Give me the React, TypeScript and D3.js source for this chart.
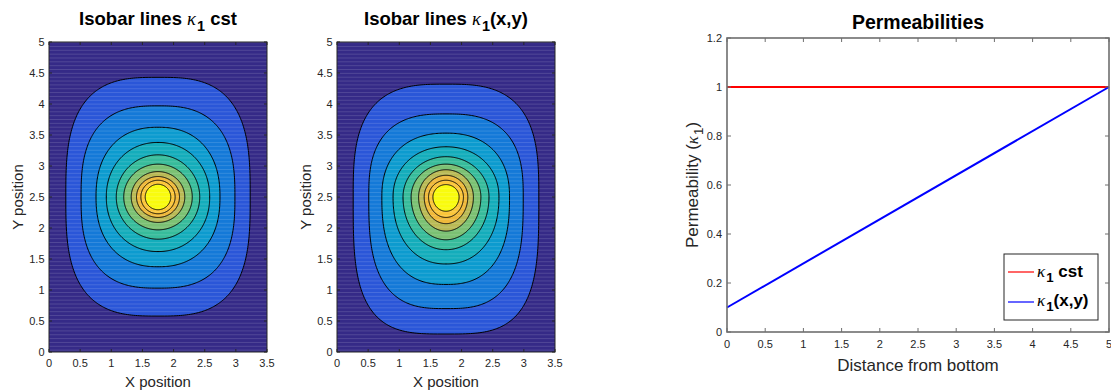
import { useMemo } from 'react';
import * as d3 from 'd3';

// Axis ticks
const CONTOUR_X_TICKS = [0, 0.5, 1, 1.5, 2, 2.5, 3, 3.5];
const CONTOUR_Y_TICKS = [0, 0.5, 1, 1.5, 2, 2.5, 3, 3.5, 4, 4.5, 5];
const PERM_X_TICKS = [0, 0.5, 1, 1.5, 2, 2.5, 3, 3.5, 4, 4.5, 5];
const PERM_Y_TICKS = [0, 0.2, 0.4, 0.6, 0.8, 1, 1.2];

// Parula-like colours for the 11 filled bands (outside -> peak)
const BAND_COLORS = [
  '#352a87', '#2a56d8', '#1479d8', '#0c9bcf', '#14adbb', '#37bc9b',
  '#7bc173', '#baba55', '#efb93b', '#fbc63a', '#f9fb0e',
];

// Isobar lines, kappa constant (outer -> inner)
const CST_LEFT = [0.27, 0.515, 0.755, 0.92, 1.08, 1.2, 1.32, 1.405, 1.475, 1.545];
const CST_RIGHT = [3.23, 2.985, 2.745, 2.58, 2.42, 2.3, 2.18, 2.095, 2.025, 1.955];
const CST_BOTTOM = [0.58, 1.03, 1.375, 1.62, 1.82, 1.97, 2.09, 2.17, 2.23, 2.295];
const CST_TOP = [4.43, 3.97, 3.625, 3.38, 3.18, 3.03, 2.91, 2.83, 2.77, 2.705];
const CST_SHAPE_TOP = [3.0, 2.7, 2.3, 2.1, 2.0, 2.0, 2.0, 2.0, 2.0, 2.0];
const CST_SHAPE_BOTTOM = [3.0, 2.7, 2.3, 2.1, 2.0, 2.0, 2.0, 2.0, 2.0, 2.0];

// Isobar lines, kappa(x,y)
const VAR_LEFT = [0.26, 0.51, 0.72, 0.9, 1.06, 1.19, 1.31, 1.4, 1.47, 1.54];
const VAR_RIGHT = [3.24, 2.99, 2.77, 2.6, 2.44, 2.31, 2.19, 2.1, 2.03, 1.96];
const VAR_BOTTOM = [0.29, 0.7, 1.09, 1.42, 1.65, 1.81, 1.95, 2.07, 2.17, 2.27];
const VAR_TOP = [4.32, 3.84, 3.53, 3.31, 3.15, 3.03, 2.94, 2.85, 2.77, 2.7];
const VAR_SHAPE_TOP = [3.0, 2.7, 2.3, 2.1, 2.0, 2.0, 2.0, 2.0, 2.0, 2.0];
const VAR_SHAPE_BOTTOM = [3.4, 2.9, 2.5, 2.2, 2.05, 2.0, 2.0, 2.0, 2.0, 2.0];

const PEAK_X = 1.75;
const PEAK_Y = 2.5;

// Permeability profiles
const DISTANCE = [0, 5];
const K_CST = [1, 1];
const K_VAR = [0.1, 1];

const FONT = '"Liberation Sans", Arial, Helvetica, sans-serif';
const GREEK = '"Liberation Serif", "DejaVu Serif", serif';
const INK = '#262626';

type Levels = {
  left: number[]; right: number[]; bottom: number[]; top: number[];
  shapeTop: number[]; shapeBottom: number[];
};

function levelPath(
  i: number,
  lv: Levels,
  x: d3.ScaleLinear<number, number>,
  y: d3.ScaleLinear<number, number>,
) {
  const pts: [number, number][] = d3.range(0, Math.PI * 2, Math.PI / 180).map((t) => {
    const c = Math.cos(t);
    const s = Math.sin(t);
    const e = 2 / (s >= 0 ? lv.shapeTop[i] : lv.shapeBottom[i]);
    const rx = c >= 0 ? lv.right[i] - PEAK_X : PEAK_X - lv.left[i];
    const ry = s >= 0 ? lv.top[i] - PEAK_Y : PEAK_Y - lv.bottom[i];
    const px = PEAK_X + rx * Math.sign(c) * Math.pow(Math.abs(c), e);
    const py = PEAK_Y + ry * Math.sign(s) * Math.pow(Math.abs(s), e);
    return [x(px), y(py)];
  });
  return d3.line().curve(d3.curveLinearClosed)(pts) ?? '';
}

function Kappa({ size }: { size: number }) {
  return (
    <>
      <tspan fontFamily={GREEK} fontStyle="italic" fontWeight="normal">κ</tspan>
      <tspan fontSize={size * 0.78} dy={size * 0.32} dx={1}>1</tspan>
    </>
  );
}

function ContourPanel({ id, x0, x1, titleTail, levels }: {
  id: string; x0: number; x1: number; titleTail: string; levels: Levels;
}) {
  const y0 = 42;
  const y1 = 352;
  const x = d3.scaleLinear().domain([0, 3.5]).range([x0, x1]);
  const y = d3.scaleLinear().domain([0, 5]).range([y1, y0]);
  const paths = useMemo(
    () => levels.left.map((_, i) => levelPath(i, levels, x, y)),
    [levels, x0, x1],
  );
  const stripes = d3.range(0.03, 5, 0.062);
  const tick = 3;

  return (
    <g>
      <defs>
        <clipPath id={id}>
          <rect x={x0} y={y0} width={x1 - x0} height={y1 - y0} />
        </clipPath>
      </defs>
      <g clipPath={`url(#${id})`}>
        <rect x={x0} y={y0} width={x1 - x0} height={y1 - y0} fill={BAND_COLORS[0]} />
        {paths.map((d, i) => (
          <path key={i} d={d} fill={BAND_COLORS[i + 1]} stroke="none" />
        ))}
        {stripes.map((v, i) => (
          <line key={i} x1={x0} x2={x1} y1={y(v)} y2={y(v)} stroke="#ffffff" strokeOpacity={0.18} strokeWidth={0.8} />
        ))}
        {paths.map((d, i) => (
          <path key={i} d={d} fill="none" stroke="#000" strokeWidth={1} />
        ))}
      </g>
      <rect x={x0} y={y0} width={x1 - x0} height={y1 - y0} fill="none" stroke={INK} strokeWidth={1} />
      {CONTOUR_X_TICKS.map((v) => (
        <g key={v}>
          <line x1={x(v)} x2={x(v)} y1={y1} y2={y1 - tick} stroke={INK} />
          <line x1={x(v)} x2={x(v)} y1={y0} y2={y0 + tick} stroke={INK} />
          <text x={x(v)} y={y1 + 15} textAnchor="middle" fontSize={11} fill={INK} fontFamily={FONT}>{v}</text>
        </g>
      ))}
      {CONTOUR_Y_TICKS.map((v) => (
        <g key={v}>
          <line x1={x0} x2={x0 + tick} y1={y(v)} y2={y(v)} stroke={INK} />
          <line x1={x1} x2={x1 - tick} y1={y(v)} y2={y(v)} stroke={INK} />
          <text x={x0 - 4.5} y={y(v)} dy="0.35em" textAnchor="end" fontSize={11} fill={INK} fontFamily={FONT}>{v}</text>
        </g>
      ))}
      <text x={(x0 + x1) / 2} y={y1 + 35} textAnchor="middle" fontSize={15} fill={INK} fontFamily={FONT}>X position</text>
      <text transform={`translate(${x0 - 26},${(y0 + y1) / 2}) rotate(-90)`} textAnchor="middle" fontSize={15} fill={INK} fontFamily={FONT}>Y position</text>
      <text x={(x0 + x1) / 2} y={25} textAnchor="middle" fontSize={18.5} fontWeight="bold" fill="#000" fontFamily={FONT}>
        Isobar lines <Kappa size={18.5} />
        <tspan dy={-18.5 * 0.32} fontSize={18.5}>{titleTail}</tspan>
      </text>
    </g>
  );
}

function PermPanel() {
  const x0 = 727;
  const x1 = 1109;
  const y0 = 38;
  const y1 = 332;
  const x = d3.scaleLinear().domain([0, 5]).range([x0, x1]);
  const y = d3.scaleLinear().domain([0, 1.2]).range([y1, y0]);
  const line = d3.line<number>().x((_, i) => x(DISTANCE[i])).y((d) => y(d));
  const tick = 4;
  const axis = '#6e6e6e';

  return (
    <g>
      <rect x={x0} y={y0} width={x1 - x0} height={y1 - y0} fill="#fff" />
      <path d={line(K_CST) ?? ''} fill="none" stroke="#ff0000" strokeWidth={2} />
      <path d={line(K_VAR) ?? ''} fill="none" stroke="#0000ff" strokeWidth={2} />
      <rect x={x0} y={y0} width={x1 - x0} height={y1 - y0} fill="none" stroke={axis} strokeWidth={1.6} />
      {PERM_X_TICKS.map((v) => (
        <g key={v}>
          <line x1={x(v)} x2={x(v)} y1={y1} y2={y1 - tick} stroke={axis} />
          <line x1={x(v)} x2={x(v)} y1={y0} y2={y0 + tick} stroke={axis} />
          <text x={x(v)} y={y1 + 16} textAnchor="middle" fontSize={11} fill={INK} fontFamily={FONT}>{v}</text>
        </g>
      ))}
      {PERM_Y_TICKS.map((v) => (
        <g key={v}>
          <line x1={x0} x2={x0 + tick} y1={y(v)} y2={y(v)} stroke={axis} />
          <line x1={x1} x2={x1 - tick} y1={y(v)} y2={y(v)} stroke={axis} />
          <text x={x0 - 5} y={y(v)} dy="0.35em" textAnchor="end" fontSize={11} fill={INK} fontFamily={FONT}>{v}</text>
        </g>
      ))}
      <text x={(x0 + x1) / 2} y={y1 + 39} textAnchor="middle" fontSize={17} fill={INK} fontFamily={FONT}>Distance from bottom</text>
      <text transform={`translate(${x0 - 29},${(y0 + y1) / 2}) rotate(-90)`} textAnchor="middle" fontSize={17} fill={INK} fontFamily={FONT}>
        Permeability (<Kappa size={17} /><tspan dy={-17 * 0.32}>)</tspan>
      </text>
      <text x={(x0 + x1) / 2} y={29} textAnchor="middle" fontSize={19.5} fontWeight="bold" fill="#000" fontFamily={FONT}>Permeabilities</text>

      {/* legend */}
      <rect x={1004} y={254} width={94} height={66} fill="#fff" stroke={INK} strokeWidth={1} />
      <line x1={1008} x2={1034} y1={272} y2={272} stroke="#ff0000" strokeWidth={1.2} />
      <line x1={1008} x2={1034} y1={302} y2={302} stroke="#0000ff" strokeWidth={1.2} />
      <text x={1037} y={277} fontSize={17} fontWeight="bold" fill="#000" fontFamily={FONT}>
        <Kappa size={17} /><tspan dy={-17 * 0.32}> cst</tspan>
      </text>
      <text x={1037} y={306} fontSize={17} fontWeight="bold" fill="#000" fontFamily={FONT}>
        <Kappa size={17} /><tspan dy={-17 * 0.32}>(x,y)</tspan>
      </text>
    </g>
  );
}

const CST_LEVELS: Levels = {
  left: CST_LEFT, right: CST_RIGHT, bottom: CST_BOTTOM, top: CST_TOP,
  shapeTop: CST_SHAPE_TOP, shapeBottom: CST_SHAPE_BOTTOM,
};
const VAR_LEVELS: Levels = {
  left: VAR_LEFT, right: VAR_RIGHT, bottom: VAR_BOTTOM, top: VAR_TOP,
  shapeTop: VAR_SHAPE_TOP, shapeBottom: VAR_SHAPE_BOTTOM,
};

export default function App() {
  return (
    <svg
      width={1111}
      height={391}
      style={{ position: 'absolute', left: 0, top: 0, display: 'block', background: '#fff' }}
    >
      <ContourPanel id="clip-cst" x0={49} x1={267} titleTail=" cst" levels={CST_LEVELS} />
      <ContourPanel id="clip-var" x0={337} x1={555} titleTail="(x,y)" levels={VAR_LEVELS} />
      <PermPanel />
    </svg>
  );
}
